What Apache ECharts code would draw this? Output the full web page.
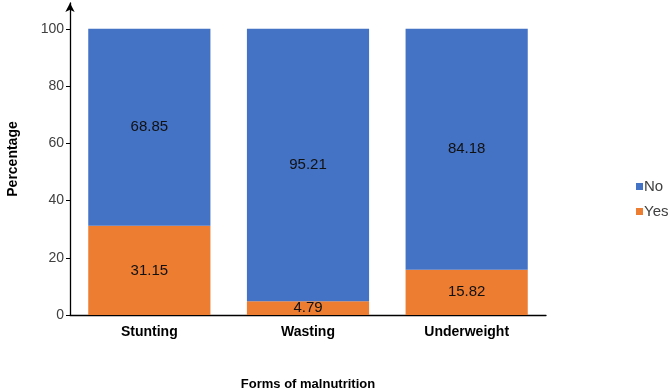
<!DOCTYPE html>
<html>
<head>
<meta charset="utf-8">
<script src="https://cdn.jsdelivr.net/npm/echarts@6/dist/echarts.min.js"></script>
<style>
  html, body { margin: 0; padding: 0; background: #fff; }
  #chart { width: 669px; height: 389px; }
</style>
</head>
<body>
<div id="chart"></div>
<script>
// data
const categories = ['Stunting', 'Wasting', 'Underweight']
const yesValues = [31.15, 4.79, 15.82]
const noValues = [68.85, 95.21, 84.18]
const yTicks = [0, 20, 40, 60, 80, 100]

const chartDom = echarts.init(document.getElementById('chart'))
const font = 'Liberation Sans, Arial, sans-serif'

const option = {
  animation: false,
  textStyle: { fontFamily: font },
  grid: { left: 70, right: 123, top: 3, bottom: 74, outerBoundsMode: 'none', containLabel: false },
  legend: {
    data: ['No', 'Yes'],
    orient: 'vertical',
    left: 631,
    top: 174,
    itemWidth: 7,
    itemHeight: 7,
    itemGap: 10,
    icon: 'rect',
    textStyle: { fontSize: 15, color: '#404040', fontFamily: font, padding: [0, 0, 0, -4] }
  },
  xAxis: {
    type: 'category',
    data: categories,
    name: 'Forms of malnutrition',
    nameLocation: 'middle',
    nameGap: 63,
    nameTextStyle: { fontSize: 13, fontWeight: 'bold', color: '#000' },
    axisLine: { lineStyle: { color: '#000', width: 1.3 } },
    axisTick: { show: false },
    axisLabel: { fontSize: 14, fontWeight: 'bold', color: '#000', margin: 10 }
  },
  yAxis: {
    type: 'value',
    min: 0,
    max: 109,
    name: 'Percentage',
    nameLocation: 'middle',
    nameGap: 50,
    nameTextStyle: { fontSize: 14, fontWeight: 'bold', color: '#000' },
    axisLine: {
      show: true,
      symbol: ['none', 'arrow'],
      symbolSize: [7, 9],
      lineStyle: { color: '#000', width: 1.3 }
    },
    axisTick: { show: true, length: 4, customValues: yTicks, lineStyle: { color: '#000' } },
    axisLabel: { fontSize: 14, color: '#404040', margin: 6, customValues: yTicks },
    splitLine: { show: false }
  },
  series: [
    {
      name: 'Yes',
      type: 'bar',
      stack: 'total',
      barWidth: '77%',
      data: yesValues,
      itemStyle: { color: '#ED7D31' },
      label: { show: true, position: 'inside', color: '#111', fontSize: 15 }
    },
    {
      name: 'No',
      type: 'bar',
      stack: 'total',
      barWidth: '77%',
      data: noValues,
      itemStyle: { color: '#4472C4' },
      label: { show: true, position: 'inside', color: '#111', fontSize: 15 }
    }
  ]
}

chartDom.setOption(option)
</script>
</body>
</html>
